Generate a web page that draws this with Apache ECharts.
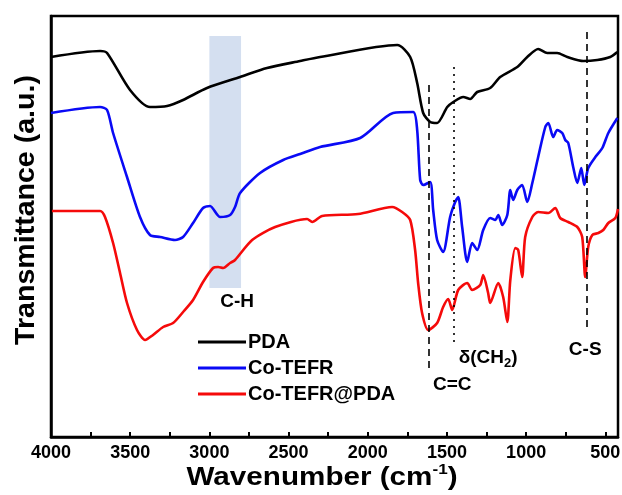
<!DOCTYPE html>
<html>
<head>
<meta charset="utf-8">
<script src="https://cdn.jsdelivr.net/npm/echarts@6/dist/echarts.min.js"></script>
<style>html,body{margin:0;padding:0;background:#fff}#c{width:622px;height:495px}</style>
</head>
<body>
<div id="c"></div>
<script>
// ---- data (wavenumber cm-1, transmittance a.u.) ----
var pdaWn = [4000,3690,3646,3501,3375,3267,3166,3015,2806,2636,2427,2301,1814,1732,1688,1650,1606,1562,1498,1460,1397,1353,1309,1227,1164,1056,993,924,867,804,740,639,551,469,424];
var pdaT  = [380,386,384,347,330,331,337,349,360,369,376,380,392,380,354,324,315,314,330,335,340,338,345,349,360,370,380,388,384,384,380,376,377,380,385];

var tefrWn = [4000,3690,3646,3608,3520,3438,3375,3311,3217,3166,3103,3040,2996,2932,2869,2838,2806,2680,2534,2427,2301,2048,1840,1713,1688,1669,1650,1606,1587,1562,1524,1480,1448,1429,1404,1372,1341,1309,1271,1227,1195,1176,1151,1119,1100,1082,1056,1025,993,961,924,879,860,829,804,772,753,734,703,677,652,633,608,563,519,481,424];
var tefrT  = [324,330,327,304,260,220,202,200,197,200,214,229,231,220,222,230,244,264,277,283,290,299,324,325,307,257,252,255,227,197,185,220,235,240,210,175,194,187,207,219,217,222,212,222,247,237,247,252,235,254,280,310,314,300,307,304,297,294,270,254,269,252,269,280,289,304,319];

var compWn = [3994,3690,3659,3608,3564,3520,3457,3406,3356,3292,3229,3166,3103,3040,2977,2945,2913,2869,2838,2730,2585,2383,2351,2288,2061,1846,1783,1732,1701,1682,1657,1618,1562,1524,1492,1467,1429,1372,1341,1290,1271,1240,1227,1176,1145,1119,1100,1069,1050,1025,1006,961,924,860,816,785,734,677,646,627,608,582,544,513,481,437,420];
var compT  = [226,226,220,194,164,134,107,97,102,110,114,125,137,155,169,170,169,174,177,197,210,218,215,221,223,230,225,217,187,154,124,107,114,130,138,127,147,154,147,152,162,144,134,154,140,115,157,189,187,160,200,220,225,224,229,219,215,210,200,160,190,202,204,207,214,219,228];

var seriesNames = ['PDA','Co-TEFR','Co-TEFR@PDA'];
var seriesColors = ['#000000','#0a0af5','#f50a0a'];

var tickValues  = [500,750,1000,1250,1500,1750,2000,2250,2500,2750,3000,3250,3500,3750,4000];
var labelValues = [500,1000,1500,2000,2500,3000,3500,4000];

// annotations
var bandNames = ['C=C','δ(CH2)','C-S'];
var bandWn    = [1618,1460,620];
var bandTop   = [352,370,405];
var bandBot   = [65,94,105];
var bandType  = ['dashed','dotted','dashed'];
var labelText = ['C-H','C=C','δ(CH{s|2})','C-S'];
var labelWn   = [2825,1467,1240,627];
var labelT    = [135,52,79,87];
var chBand    = [3000,2800,149,401];

function zip(a,b){var r=[];for(var i=0;i<a.length;i++)r.push([a[i],b[i]]);return r;}

var FONT = '"Liberation Sans", Arial, sans-serif';
var chart = echarts.init(document.getElementById('c'), null, {renderer:'canvas'});

var lines = [[pdaWn,pdaT],[tefrWn,tefrT],[compWn,compT]].map(function(d,i){
  return {
    name: seriesNames[i], type:'line', data: zip(d[0],d[1]),
    symbol:'none', smooth:0.25, z: 3 + (2-i),
    lineStyle:{color:seriesColors[i], width:2.6},
    itemStyle:{color:seriesColors[i]}
  };
});

var markLineData = bandWn.map(function(w,i){
  return [{coord:[w,bandTop[i]], lineStyle:{type: bandType[i]==='dotted'?[2,5]:[7,5], color:'#000', width:1.6, opacity:1}},
          {coord:[w,bandBot[i]]}];
});

var annot = {
  type:'scatter', name:'annot', symbolSize:0, z:10, silent:true,
  itemStyle:{opacity:1, color:'#000'},
  data: labelText.map(function(t,i){return {value:[labelWn[i],labelT[i]], txt:t};}),
  label:{show:true, position:'inside', opacity:1, formatter:function(p){return p.data.txt;},
    color:'#000', fontFamily:FONT, fontWeight:'bold', fontSize:19,
    rich:{s:{fontSize:13, fontWeight:'bold', fontFamily:FONT, color:'#000', verticalAlign:'bottom', padding:[11,0,0,0]}}},
  markArea:{silent:true, itemStyle:{color:'rgb(212,223,240)', opacity:1},
    data:[[{coord:[chBand[0],chBand[2]]},{coord:[chBand[1],chBand[3]]}]]},
  markLine:{silent:true, symbol:'none', label:{show:false}, data: markLineData, z:9}
};

var option = {
  animation:false,
  backgroundColor:'#fff',
  grid:{left:51, right:4, top:16, bottom:58, show:true, borderColor:'#000', borderWidth:2.5,
        containLabel:false, outerBoundsMode:'none'},
  legend:{
    data: seriesNames, orient:'vertical', left:193, top:327,
    itemWidth:48, itemHeight:18, itemGap:6,
    icon:'path://M0,0 L48,0 L48,3 L0,3 Z',
    textStyle:{fontFamily:FONT, fontWeight:'bold', fontSize:20, color:'#000', padding:[0,0,0,-3]}
  },
  xAxis:{
    type:'value', inverse:true, min:420, max:4000,
    axisLine:{show:true, lineStyle:{color:'#000', width:2.5}},
    axisTick:{show:true, inside:true, length:5, customValues:tickValues, lineStyle:{color:'#000', width:2}},
    axisLabel:{show:true, customValues:labelValues, margin:7, color:'#000', fontFamily:FONT, fontWeight:'bold', fontSize:18,
      formatter:function(v){return String(v);}},
    splitLine:{show:false}
  },
  yAxis:{
    type:'value', min:0, max:421,
    axisLine:{show:true, lineStyle:{color:'#000', width:2.5}},
    axisTick:{show:false}, axisLabel:{show:false}, splitLine:{show:false}
  },
  graphic:[
    {type:'text', x:26, y:210, rotation:Math.PI/2, scaleX:1.02,
      style:{text:'Transmittance (a.u.)', font:'bold 28px '+FONT, fill:'#000', textAlign:'center', textVerticalAlign:'middle'}},
    {type:'text', x:322, y:478, scaleX:1.14,
      style:{
      text:'Wavenumber (cm{sup|-1})', rich:{sup:{font:'bold 15px '+FONT, fill:'#000', padding:[0,0,16,0]}},
      font:'bold 26px '+FONT, fill:'#000', textAlign:'center', textVerticalAlign:'middle'}}
  ],
  series: lines.concat([annot])
};
chart.setOption(option);
</script>
</body>
</html>
